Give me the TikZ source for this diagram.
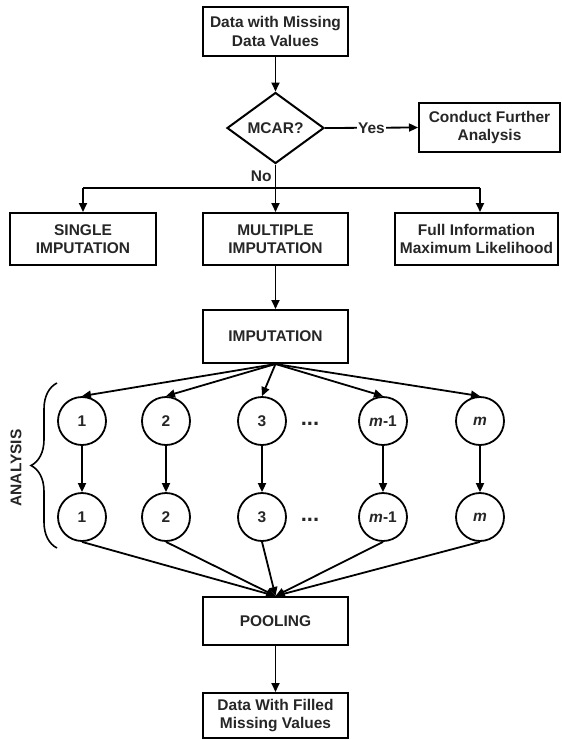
\documentclass[tikz,border=0pt]{standalone}
\usepackage{fontspec}
\setmainfont{Liberation Sans}
\usetikzlibrary{shapes.geometric,arrows.meta,decorations.pathreplacing,calc}
\begin{document}
\begin{tikzpicture}[x=1pt,y=-1pt,
  every node/.style={font=\fontsize{15.5}{18.5}\selectfont\bfseries, text=black!85},
  box/.style={draw, line width=2pt, align=center, inner sep=0pt, minimum width=145pt, minimum height=49pt},
  dec/.style={draw, diamond, line width=2pt, inner sep=0pt, minimum width=97pt, minimum height=71pt},
  circ/.style={draw, circle, line width=1.8pt, minimum size=48pt, inner sep=0pt},
  arr/.style={line width=1.8pt, -{Triangle[length=9pt,width=8pt]}},
  ln/.style={line width=1.8pt},
  dotsty/.style={font=\fontsize{22}{22}\selectfont\bfseries}]
\useasboundingbox (0,0) rectangle (562,740);

\node[box] (top) at (275.5,31.5) {Data with Missing\\Data Values};
\node[dec] (mcar) at (275.5,128) {MCAR?};
\node[box, minimum width=141pt] (cond) at (489.5,127.5) {Conduct Further\\Analysis};
\node[box, minimum width=146pt, minimum height=52pt] (single) at (83,239) {SINGLE\\IMPUTATION};
\node[box, minimum height=52pt] (multi) at (275.5,239) {MULTIPLE\\IMPUTATION};
\node[box, minimum width=163pt, minimum height=52pt] (full) at (476.5,239) {Full Information\\Maximum Likelihood};
\node[box, minimum height=53pt] (imp) at (275.5,336.5) {IMPUTATION};
\node[box, minimum height=48pt] (pool) at (275.5,621) {POOLING};
\node[box, minimum height=45pt] (final) at (275.5,715.5) {Data With Filled\\Missing Values};

\foreach \n/\x/\t in {a/82/1, b/166/2, c/262/3, d/383/{\textit{m}-1}, e/480/{\textit{m}}}{
  \node[circ] (t\n) at (\x,421) {\t};
  \node[circ] (u\n) at (\x,517) {\t};
  \draw[arr] (imp.south) -- (t\n.north);
  \draw[arr] (t\n) -- (u\n);
  \draw[arr] (u\n.south) -- (pool.north);
}
\node[dotsty] (dots1) at (310,424) {...};
\node[dotsty] (dots2) at (310,520) {...};

\coordinate (bm) at (275.5,188);
\coordinate (bl) at (83,188);
\coordinate (bri) at (480,188);
\draw[arr] (top) -- (mcar);
\draw[ln] (mcar.south) -- node[anchor=east, inner sep=3pt] (no) {No} (bm);
\draw[ln] (bl) -- (bri);
\draw[arr] (bl) -- (single.north);
\draw[arr] (bm) -- (multi.north);
\draw[arr] (bri) -- (bri |- full.north);
\draw[arr] (mcar.east) -- node[fill=white, inner sep=1pt] (yes) {Yes} (cond.west);
\draw[arr] (multi) -- (imp);
\draw[arr] (pool) -- (final);

\coordinate (brtop) at (57,383);
\coordinate (brbot) at (57,548);
\draw[line width=1.6pt, decorate, decoration={brace, amplitude=26pt, aspect=0.5}] (brbot) -- (brtop);
\node[rotate=90] (analysis) at (16,468) {ANALYSIS};
\end{tikzpicture}
\end{document}
